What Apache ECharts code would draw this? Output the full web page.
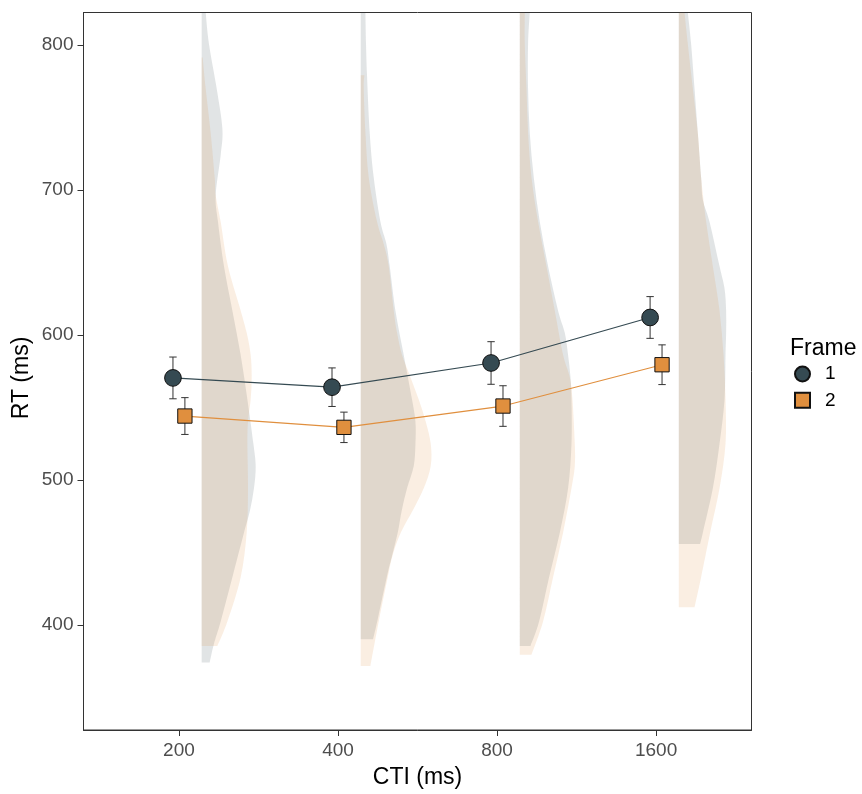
<!DOCTYPE html>
<html>
<head>
<meta charset="utf-8">
<script src="https://cdn.jsdelivr.net/npm/echarts@6/dist/echarts.min.js"></script>
<style>
  html, body { margin: 0; padding: 0; background: #ffffff; }
  #chart { width: 862px; height: 794px; }
</style>
</head>
<body>
<div id="chart"></div>
<script>
// CTI conditions on the x axis
const ctiLabels = ['200', '400', '800', '1600'];
const frameNames = ['1', '2'];

// Mean RT and standard error per CTI, one pair of arrays per frame
const meanFrame1 = [570.4, 564.0, 580.7, 612.1];
const seFrame1   = [14.4, 13.3, 14.7, 14.4];
const meanFrame2 = [544.1, 536.3, 551.0, 579.5];
const seFrame2   = [12.7, 10.5, 14.0, 13.7];

// RT axis ticks
const rtTicks = [400, 500, 600, 700, 800];

// Half-violin density profiles: [RT, density] from the lowest to highest RT
const dens200Frame1 = [[374.1,8],[387.0,12.3],[402.3,19],[432.9,30.7],[463.6,42.3],[478.9,48.3],[494.2,52.3],[509.6,54],[524.9,51.7],[555.5,45.7],[586.2,39],[616.8,30.7],[647.4,22.3],[678.1,16.3],[696.5,14],[724.1,19],[742.4,20.7],[770,15],[800.7,7.3],[822.5,4]];
const dens200Frame2 = [[385.5,15.7],[402.3,25.7],[432.9,39],[463.6,45],[494.2,46.3],[524.9,45.7],[540.2,46.3],[555.5,49],[570.9,50],[586.2,49],[601.5,45],[616.8,39],[647.4,26.3],[678.1,19],[696.5,14],[708.7,13],[739.4,9],[770,4],[791.5,1]];
const dens400Frame1 = [[390.1,12.3],[402.3,16.5],[432.9,26],[448.3,31.5],[463.6,37],[478.9,41],[494.2,46.3],[509.6,53],[524.9,54.7],[540.2,54.7],[555.5,51.3],[586.2,43],[616.8,34.7],[647.4,29],[662.8,25.7],[678.1,19.7],[708.7,13],[739.4,9],[779.2,6.3],[800.7,5.3],[822.5,4.7]];
const dens400Frame2 = [[371.7,9.7],[402.3,18],[432.9,27],[448.3,32],[463.6,40],[478.9,52],[494.2,63],[509.6,70],[524.9,70],[540.2,65],[555.5,58],[570.9,49.7],[586.2,41.3],[601.5,36.3],[616.8,33],[647.4,28],[662.8,23],[678.1,16.3],[708.7,8],[739.4,4.7],[770,3],[779.2,3.7]];
const dens800Frame1 = [[385.5,10.7],[402.3,19.3],[432.9,29.3],[463.6,40],[494.2,48.3],[524.9,51.7],[555.5,51.7],[570.9,50.7],[586.2,48.3],[601.5,45],[616.8,38.3],[647.4,28.3],[678.1,20],[708.7,14],[739.4,10],[770,8.3],[800.7,8.3],[822.5,10]];
const dens800Frame2 = [[379.4,11.7],[402.3,23.3],[432.9,33.3],[463.6,43.3],[494.2,51.7],[509.6,55],[524.9,55],[555.5,52.7],[570.9,50],[586.2,43.3],[616.8,35],[647.4,26.7],[678.1,18.3],[708.7,11.7],[739.4,8.3],[770,6.7],[800.7,5],[822.5,5]];
const dens1600Frame1 = [[455.9,21.3],[463.6,24],[494.2,34],[524.9,40.7],[555.5,45.7],[586.2,46.7],[601.5,47.3],[616.8,47.3],[632.1,45.7],[647.4,40.7],[678.1,30.7],[693.4,24],[708.7,22.3],[739.4,19],[770,15.7],[800.7,12.3],[822.5,9]];
const dens1600Frame2 = [[412.1,15.7],[432.9,22.3],[463.6,31.3],[494.2,40.7],[524.9,46.7],[555.5,46.7],[586.2,44.7],[616.8,40.7],[647.4,34],[678.1,27.3],[708.7,22.3],[724.1,20.7],[739.4,19],[770,14],[800.7,9],[822.5,5.7]];

const violinsFrame1 = [dens200Frame1, dens400Frame1, dens800Frame1, dens1600Frame1];
const violinsFrame2 = [dens200Frame2, dens400Frame2, dens800Frame2, dens1600Frame2];

// Drawing constants
const FONT = '"Liberation Sans", Arial, Helvetica, sans-serif';
const DODGE = 0.0375;          // horizontal offset of each frame's point
const VIOLIN_NUDGE = 0.143;    // violins sit to the right of each CTI
const DENSITY_TO_X = 1 / 159;  // density units -> x-axis units
const COLORS = ['#354a52', '#e08f3e'];
const VIOLIN_FILLS = ['rgba(53,74,82,0.15)', 'rgba(224,143,62,0.15)'];

const chart = echarts.init(document.getElementById('chart'), null, { renderer: 'canvas' });

// Smooth outline through pixel points (Catmull-Rom converted to cubic Beziers)
function smoothOutline(pts) {
  let d = '';
  for (let i = 0; i < pts.length - 1; i++) {
    const p0 = pts[Math.max(i - 1, 0)], p1 = pts[i], p2 = pts[i + 1], p3 = pts[Math.min(i + 2, pts.length - 1)];
    const c1x = p1[0] + (p2[0] - p0[0]) / 6, c1y = p1[1] + (p2[1] - p0[1]) / 6;
    const c2x = p2[0] - (p3[0] - p1[0]) / 6, c2y = p2[1] - (p3[1] - p1[1]) / 6;
    d += ' C' + c1x + ',' + c1y + ' ' + c2x + ',' + c2y + ' ' + p2[0] + ',' + p2[1];
  }
  return d;
}

function violinSeries(profiles, fill, z) {
  return {
    type: 'custom',
    coordinateSystem: 'cartesian2d',
    clip: true,
    silent: true,
    z: z,
    data: profiles.map((p, i) => [i + 1, p[0][0]]),
    renderItem(params, api) {
      const prof = profiles[params.dataIndex];
      const base = params.dataIndex + 1 + VIOLIN_NUDGE;
      const b0 = api.coord([base, prof[0][0]]);
      const b1 = api.coord([base, prof[prof.length - 1][0]]);
      const edge = prof.map(([rt, d]) => api.coord([base + d * DENSITY_TO_X, rt]));
      const pathData = 'M' + b0[0] + ',' + b0[1] + ' L' + edge[0][0] + ',' + edge[0][1] +
        smoothOutline(edge) + ' L' + b1[0] + ',' + b1[1] + ' Z';
      return { type: 'path', shape: { pathData: pathData }, style: { fill: fill } };
    }
  };
}

function errorBarSeries(means, ses, offset) {
  return {
    type: 'custom',
    coordinateSystem: 'cartesian2d',
    silent: true,
    z: 3,
    data: means.map((m, i) => [i + 1 + offset, m - ses[i], m + ses[i]]),
    renderItem(params, api) {
      const lo = api.coord([api.value(0), api.value(1)]);
      const hi = api.coord([api.value(0), api.value(2)]);
      const cap = 3.7;
      const st = { stroke: '#333333', lineWidth: 1 };
      return {
        type: 'group',
        children: [
          { type: 'line', shape: { x1: lo[0], y1: lo[1], x2: hi[0], y2: hi[1] }, style: st },
          { type: 'line', shape: { x1: lo[0] - cap, y1: lo[1], x2: lo[0] + cap, y2: lo[1] }, style: st },
          { type: 'line', shape: { x1: hi[0] - cap, y1: hi[1], x2: hi[0] + cap, y2: hi[1] }, style: st }
        ]
      };
    }
  };
}

function meanPoints(means, offset) {
  return means.map((m, i) => [i + 1 + offset, m]);
}

const option = {
  animation: false,
  backgroundColor: '#ffffff',
  textStyle: { fontFamily: FONT },
  grid: {
    left: 83.5, right: 110.5, top: 12.5, bottom: 59,
    show: true, borderColor: '#333333', borderWidth: 1, backgroundColor: 'transparent'
  },
  xAxis: {
    type: 'value',
    min: 0.4, max: 4.6,
    name: 'CTI (ms)',
    nameLocation: 'middle',
    nameGap: 36,
    nameTextStyle: { fontSize: 23, color: '#000000', fontFamily: FONT },
    axisLine: { show: true, lineStyle: { color: '#333333', width: 1 } },
    axisTick: { show: true, customValues: [1, 2, 3, 4], length: 6, lineStyle: { color: '#333333', width: 1 } },
    axisLabel: {
      customValues: [1, 2, 3, 4],
      formatter: v => ctiLabels[Math.round(v) - 1],
      fontSize: 19, color: '#4d4d4d', margin: 11, fontFamily: FONT
    },
    splitLine: { show: false }
  },
  yAxis: {
    type: 'value',
    min: 327.5, max: 822.5,
    axisLine: { show: true, lineStyle: { color: '#333333', width: 1 } },
    axisTick: { show: true, customValues: rtTicks, length: 6, lineStyle: { color: '#333333', width: 1 } },
    axisLabel: { customValues: rtTicks, fontSize: 19, color: '#4d4d4d', margin: 10, fontFamily: FONT },
    splitLine: { show: false }
  },
  legend: {
    orient: 'vertical',
    left: 794, top: 364.5, padding: 0,
    itemWidth: 15, itemHeight: 15, itemGap: 7.3,
    selectedMode: false,
    data: [{ name: frameNames[0], icon: 'circle' }, { name: frameNames[1], icon: 'rect' }],
    textStyle: { fontSize: 19, color: '#000000', fontFamily: FONT, padding: [0, 0, 0, 10] }
  },
  graphic: [
    { type: 'text', left: 790, top: 337, style: { text: 'Frame', fontSize: 23, fill: '#000000', fontFamily: FONT } },
    { type: 'text', x: 21.7, y: 378, rotation: Math.PI / 2,
      style: { text: 'RT (ms)', fontSize: 23, fill: '#000000', fontFamily: FONT, align: 'center', verticalAlign: 'middle' } }
  ],
  series: [
    violinSeries(violinsFrame1, VIOLIN_FILLS[0], 1),
    violinSeries(violinsFrame2, VIOLIN_FILLS[1], 1),
    errorBarSeries(meanFrame1, seFrame1, -DODGE),
    errorBarSeries(meanFrame2, seFrame2, DODGE),
    {
      type: 'line', silent: true, z: 4,
      data: meanPoints(meanFrame1, -DODGE),
      symbol: 'none',
      lineStyle: { color: COLORS[0], width: 1.2 }
    },
    {
      type: 'line', silent: true, z: 4,
      data: meanPoints(meanFrame2, DODGE),
      symbol: 'none',
      lineStyle: { color: COLORS[1], width: 1.2 }
    },
    {
      type: 'scatter', name: frameNames[0], z: 5,
      data: meanPoints(meanFrame1, -DODGE),
      symbol: 'circle', symbolSize: 16.7,
      itemStyle: { color: COLORS[0], borderColor: '#111111', borderWidth: 1, opacity: 1 }
    },
    {
      type: 'scatter', name: frameNames[1], z: 5,
      data: meanPoints(meanFrame2, DODGE),
      symbol: 'rect', symbolSize: 14.3,
      itemStyle: { color: COLORS[1], borderColor: '#111111', borderWidth: 1, opacity: 1 }
    }
  ]
};

chart.setOption(option);
</script>
</body>
</html>
